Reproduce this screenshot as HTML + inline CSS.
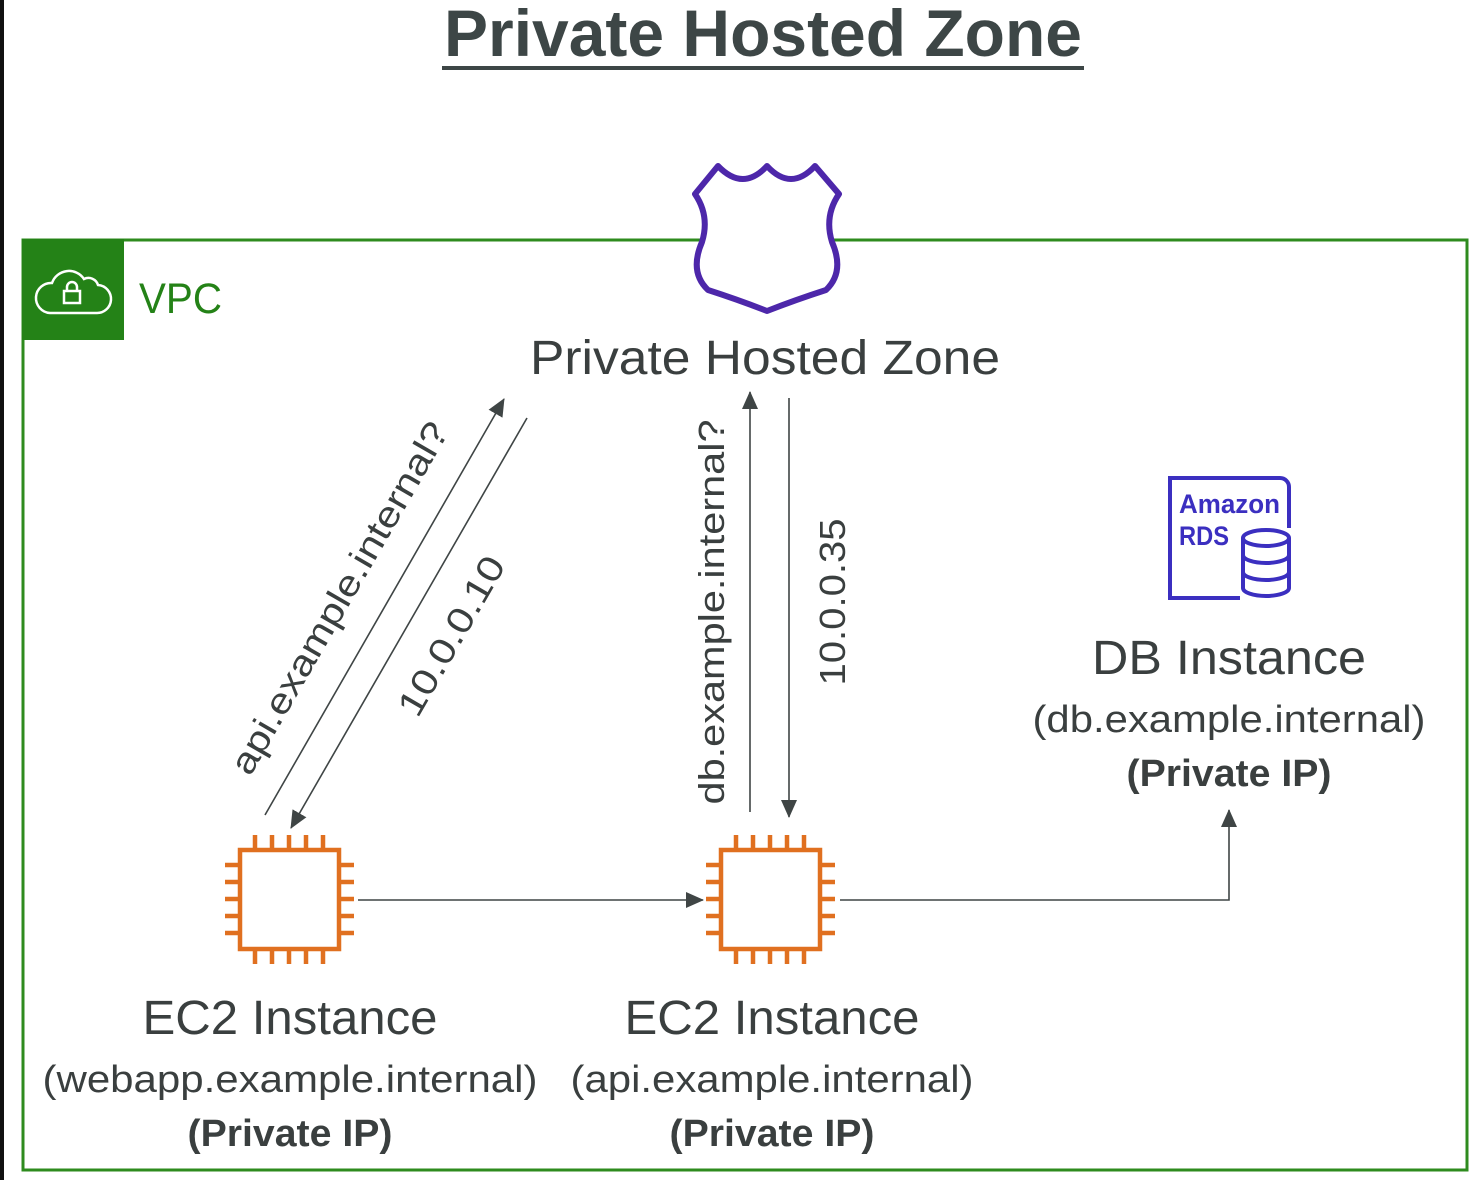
<!DOCTYPE html>
<html><head><meta charset="utf-8"><style>
html,body{margin:0;padding:0;background:#fff;}
body{width:1472px;height:1180px;overflow:hidden;position:relative;font-family:"Liberation Sans",sans-serif;}
</style></head><body>
<svg width="1472" height="1180" viewBox="0 0 1472 1180" xmlns="http://www.w3.org/2000/svg" style="position:absolute;left:0;top:0">
<defs>
<marker id="ah2" markerWidth="18" markerHeight="18" refX="17" refY="9" orient="auto" markerUnits="userSpaceOnUse" viewBox="0 0 18 18">
<path d="M0,1 L18,9 L0,17 z" fill="#3f4545"/>
</marker>
</defs>
<rect x="0" y="0" width="4" height="1180" fill="#111"/>
<text x="763" y="56" text-anchor="middle" font-size="66" font-weight="bold" fill="#3d4646" textLength="638" lengthAdjust="spacingAndGlyphs">Private Hosted Zone</text>
<rect x="442" y="66" width="642" height="4" fill="#3d4646"/>
<rect x="23" y="240" width="1444" height="930" fill="none" stroke="#2e8b1e" stroke-width="3"/>
<rect x="22" y="239" width="102" height="101" fill="#248217"/>
<g fill="none" stroke="#fff" stroke-width="2.5">
<path d="M50,313 h46 a14,14 0 0 0 2,-28 a10,10 0 0 0 -14,-6 a18,18 0 0 0 -32,4 a12,12 0 0 0 -2,30 z"/>
<rect x="64" y="291" width="16" height="12"/>
<path d="M67,291 v-4 a5,5 0 0 1 10,0 v4"/>
</g>
<text x="139" y="313" font-size="43" fill="#248217" textLength="83" lengthAdjust="spacingAndGlyphs">VPC</text>
<path d="M718,166 Q743,192 767,166 Q791,192 815,166 L839,194 Q824,216 832,242 Q845,272 826,290 Q795,300 767,311 Q739,300 708,290 Q689,272 702,242 Q710,216 695,194 Z" fill="#fff" stroke="#4d27aa" stroke-width="6" stroke-linejoin="round"/>
<text x="765" y="374" text-anchor="middle" font-size="48" fill="#3a3f3f" textLength="470" lengthAdjust="spacingAndGlyphs">Private Hosted Zone</text>
<g stroke="#3f4545" stroke-width="1.6" fill="none">
<line x1="265" y1="815" x2="504" y2="399" marker-end="url(#ah2)"/>
<line x1="527" y1="418" x2="291" y2="828" marker-end="url(#ah2)"/>
<line x1="750" y1="812" x2="750" y2="392" marker-end="url(#ah2)"/>
<line x1="789" y1="398" x2="789" y2="817" marker-end="url(#ah2)"/>
<line x1="358" y1="900" x2="703" y2="900" marker-end="url(#ah2)"/>
<polyline points="840,900 1229,900 1229,810" marker-end="url(#ah2)"/>
</g>
<g font-size="36" fill="#3a3f3f">
<text transform="translate(350,604) rotate(-60)" text-anchor="middle" textLength="400" lengthAdjust="spacingAndGlyphs">api.example.internal?</text>
<text transform="translate(462,642) rotate(-60)" text-anchor="middle" textLength="178" lengthAdjust="spacingAndGlyphs">10.0.0.10</text>
<text transform="translate(724,612) rotate(-90)" text-anchor="middle" textLength="385" lengthAdjust="spacingAndGlyphs">db.example.internal?</text>
<text transform="translate(845,602) rotate(-90)" text-anchor="middle" textLength="167" lengthAdjust="spacingAndGlyphs">10.0.0.35</text>
</g>
<g stroke="#e07020" stroke-width="4.5" fill="none">
<rect x="240" y="850" width="99" height="99"/>
<path d="M255,835v15M272,835v15M289,835v15M306,835v15M323,835v15 M255,949v15M272,949v15M289,949v15M306,949v15M323,949v15 M225,865h15M225,882h15M225,899h15M225,916h15M225,933h15 M339,865h15M339,882h15M339,899h15M339,916h15M339,933h15"/>
</g>
<g stroke="#e07020" stroke-width="4.5" fill="none" transform="translate(481,0)">
<rect x="240" y="850" width="99" height="99"/>
<path d="M255,835v15M272,835v15M289,835v15M306,835v15M323,835v15 M255,949v15M272,949v15M289,949v15M306,949v15M323,949v15 M225,865h15M225,882h15M225,899h15M225,916h15M225,933h15 M339,865h15M339,882h15M339,899h15M339,916h15M339,933h15"/>
</g>
<g stroke="#3b2fc0" stroke-width="4" fill="none">
<path d="M1240,598 H1170 V478 H1280 a9,9 0 0 1 9,9 V528"/>
<ellipse cx="1266" cy="538" rx="23" ry="8" fill="#fff"/>
<path d="M1243,538 V588 a23,8 0 0 0 46,0 V538"/>
<path d="M1243,555 a23,8 0 0 0 46,0 M1243,572 a23,8 0 0 0 46,0"/>
</g>
<text x="1179" y="513" font-size="27" font-weight="bold" fill="#3b2fc0" textLength="101" lengthAdjust="spacingAndGlyphs">Amazon</text>
<text x="1179" y="545" font-size="27" font-weight="bold" fill="#3b2fc0" textLength="50" lengthAdjust="spacingAndGlyphs">RDS</text>
<g fill="#3a3f3f" text-anchor="middle" lengthAdjust="spacingAndGlyphs">
<text x="1229" y="674" font-size="48" textLength="274" lengthAdjust="spacingAndGlyphs">DB Instance</text>
<text x="1229" y="732" font-size="38" textLength="393" lengthAdjust="spacingAndGlyphs">(db.example.internal)</text>
<text x="1229" y="786" font-size="38" font-weight="bold" textLength="205" lengthAdjust="spacingAndGlyphs">(Private IP)</text>
<text x="290" y="1034" font-size="48" textLength="295" lengthAdjust="spacingAndGlyphs">EC2 Instance</text>
<text x="290" y="1092" font-size="38" textLength="495" lengthAdjust="spacingAndGlyphs">(webapp.example.internal)</text>
<text x="290" y="1146" font-size="38" font-weight="bold" textLength="205" lengthAdjust="spacingAndGlyphs">(Private IP)</text>
<text x="772" y="1034" font-size="48" textLength="295" lengthAdjust="spacingAndGlyphs">EC2 Instance</text>
<text x="772" y="1092" font-size="38" textLength="403" lengthAdjust="spacingAndGlyphs">(api.example.internal)</text>
<text x="772" y="1146" font-size="38" font-weight="bold" textLength="205" lengthAdjust="spacingAndGlyphs">(Private IP)</text>
</g>
</svg>
</body></html>
